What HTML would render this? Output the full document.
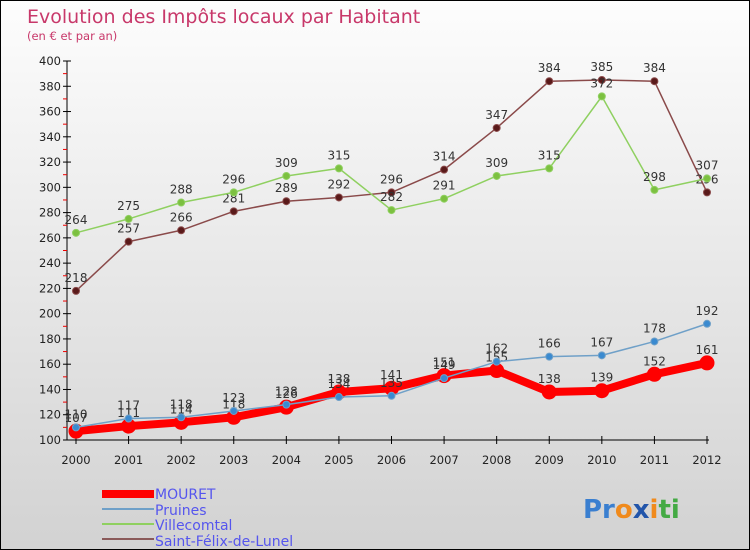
<!DOCTYPE html>
<html><head><meta charset="utf-8"><style>
body{margin:0}
#c{width:750px;height:550px;position:relative;box-sizing:border-box;border:1px solid #000;background:linear-gradient(#fdfdfd,#d2d2d2);font-family:"DejaVu Sans","Liberation Sans",sans-serif;overflow:hidden}
svg text{font-family:"DejaVu Sans","Liberation Sans",sans-serif}
</style></head><body>
<div id="c">
<svg id="s" width="750" height="550">
<text x="26" y="22" font-size="19" fill="#c8386a">Evolution des Impôts locaux par Habitant</text>
<text x="26" y="39" font-size="11.5" fill="#c8386a">(en € et par an)</text>
<g id="axes"></g><g id="series"></g>
<g font-size="14" fill="#5555ee">
<rect x="101" y="489" width="52" height="8" fill="#f00"/>
<text x="154" y="498">MOURET</text>
<rect x="101" y="507" width="52" height="2" fill="#6fa0c8"/>
<text x="154" y="514">Pruines</text>
<rect x="101" y="522" width="52" height="2" fill="#8fd060"/>
<text x="154" y="529">Villecomtal</text>
<rect x="101" y="537" width="52" height="2" fill="#8a5a5a"/>
<text x="154" y="545">Saint-Félix-de-Lunel</text>
</g>
<text x="582" y="517" font-size="26" font-weight="bold"><tspan fill="#3a7fd0">Pr</tspan><tspan fill="#f08a1c">o</tspan><tspan fill="#2255aa">x</tspan><tspan fill="#f08a1c">i</tspan><tspan fill="#44aa44">ti</tspan></text>
</svg></div>
<script>
const years=["2000","2001","2002","2003","2004","2005","2006","2007","2008","2009","2010","2011","2012"];
const yTicks=[100,120,140,160,180,200,220,240,260,280,300,320,340,360,380,400];
const mouret=[107,111,114,118,126,138,141,151,155,138,139,152,161];
const pruines=[110,117,118,123,128,134,135,149,162,166,167,178,192];
const villecomtal=[264,275,288,296,309,315,282,291,309,315,372,298,307];
const saintFelix=[218,257,266,281,289,292,296,314,347,384,385,384,296];
const NS="http://www.w3.org/2000/svg";
const X=i=>75+i*(706-75)/12;
const Y=v=>439-(v-100)*(439-60)/300;
function mk(t,a,p){const e=document.createElementNS(NS,t);for(const k in a)e.setAttribute(k,a[k]);p.appendChild(e);return e;}
const ax=document.getElementById('axes'),sg=document.getElementById('series');
mk('line',{x1:66,y1:60,x2:66,y2:439,stroke:'#000'},ax);
mk('line',{x1:66,y1:439,x2:708,y2:439,stroke:'#000'},ax);
yTicks.forEach(v=>{
 mk('line',{x1:62,y1:Y(v),x2:70,y2:Y(v),stroke:'#000'},ax);
 if(v<400)mk('line',{x1:62,y1:Y(v+10),x2:66,y2:Y(v+10),stroke:'#e00'},ax);
 const t=mk('text',{x:60,y:Y(v)+4,'font-size':11.5,'text-anchor':'end',fill:'#222'},ax);
 
 
 t.textContent=v;
});
years.forEach((y,i)=>{
 mk('line',{x1:X(i),y1:435,x2:X(i),y2:443,stroke:'#000'},ax);
 const t=mk('text',{x:X(i),y:463,'font-size':11.5,'text-anchor':'middle',fill:'#222'},ax);
 
 
 t.textContent=y;
});
function series(name,d,col,w,r,dot){
 const g=mk('g',{},sg);
 
 
 mk('polyline',{points:d.map((v,i)=>X(i)+','+Y(v)).join(' '),fill:'none',stroke:col,'stroke-width':w,'stroke-linejoin':'round'},g);
 d.forEach((v,i)=>{
  const c=mk('circle',{cx:X(i),cy:Y(v),r:r,fill:dot,stroke:col,'stroke-width':1},g);
  
  
  const t=mk('text',{x:X(i),y:Y(v)-9,'font-size':12,'text-anchor':'middle',fill:'#333'},g);
  
  
  t.textContent=v;
 });
}
series('saint-felix',saintFelix,'#8a4a4a',1.5,3.5,'#5a1a1a');
series('villecomtal',villecomtal,'#8fd060',1.5,3.5,'#7cc040');
series('mouret',mouret,'#f00',8,7,'#f00');
series('pruines',pruines,'#6fa0c8',1.5,3.5,'#3a8ad0');
</script>
</body></html>
